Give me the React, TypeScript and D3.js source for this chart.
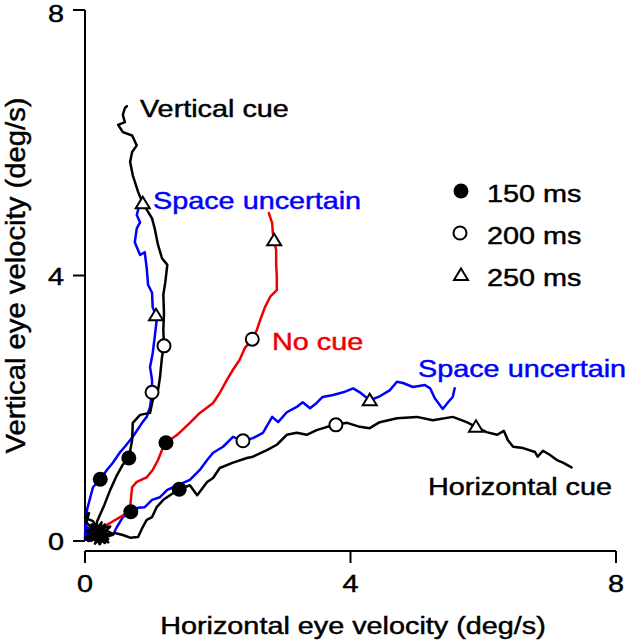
import React from "react";
import * as d3 from "d3";

type Pt = [number, number];

// ---- data (deg/s) ----
const xTicks = [0, 4, 8];
const yTicks = [0, 4, 8];

const verticalCue: Pt[] = [
  [0.02, 0.02], [0.3, 0.2], [0.05, 0.1], [0.35, 0.03], [0.1, 0.25], [0.4, 0.12], [0.05, 0.0],
  [0.25, 0.28], [0.15, -0.04], [0.38, 0.22], [0.02, 0.15], [0.3, -0.03], [0.12, 0.3], [0.0, 0.35],
  [0.06, 0.42], [0.02, 0.28], [0.12, 0.18], [0.22, -0.05], [0.28, 0.16], [0.08, 0.05],
  [0.33, 0.1], [0.14, 0.12], [0.24, 0.22], [0.18, 0.02], [0.18, 0.29],
  [0.29, 0.54], [0.38, 0.77],
  [0.48, 0.99], [0.57, 1.15], [0.66, 1.25], [0.71, 1.52], [0.72, 1.78], [0.83, 1.9], [0.98, 1.93],
  [1.02, 2.12], [1.1, 2.27], [1.13, 2.47], [1.16, 2.77], [1.19, 2.94], [1.18, 3.18], [1.19, 3.43],
  [1.18, 3.71], [1.21, 3.9], [1.24, 4.16], [1.16, 4.26], [1.1, 4.46], [1.05, 4.71], [1.01, 4.86],
  [0.87, 5.09], [0.8, 5.26], [0.72, 5.51], [0.68, 5.71], [0.71, 5.86], [0.78, 5.96], [0.71, 6.11],
  [0.57, 6.16], [0.5, 6.27], [0.6, 6.31], [0.57, 6.42], [0.6, 6.52], [0.63, 6.55],
];

const spaceVertical: Pt[] = [
  [0.0, 0.02], [0.08, 0.17], [0.0, 0.24], [0.11, 0.09], [0.03, 0.05], [0.12, 0.2], [0.0, 0.09],
  [0.02, 0.32], [0.03, 0.47], [0.12, 0.81], [0.23, 0.93], [0.33, 1.07], [0.42, 1.18], [0.53, 1.34],
  [0.6, 1.42], [0.72, 1.57], [0.86, 1.78], [0.93, 1.87], [0.98, 2.02], [1.01, 2.24], [1.01, 2.43],
  [0.98, 2.62], [1.02, 2.83], [1.05, 3.07], [1.08, 3.33], [1.07, 3.4], [1.02, 3.52], [1.01, 3.74],
  [0.95, 3.86], [0.93, 4.11], [0.9, 4.35], [0.83, 4.31], [0.75, 4.5], [0.78, 4.71], [0.83, 4.8],
  [0.78, 4.91], [0.8, 4.99],
];

const noCue: Pt[] = [
  [0.05, 0.05], [0.15, 0.15], [0.1, 0.05], [0.2, 0.1], [0.27, 0.21], [0.41, 0.29], [0.53, 0.36],
  [0.63, 0.42], [0.68, 0.51], [0.71, 0.81], [0.78, 0.89], [0.93, 0.96], [1.02, 1.07], [1.1, 1.22],
  [1.18, 1.42], [1.22, 1.48], [1.39, 1.6], [1.58, 1.78], [1.73, 1.93], [1.93, 2.08], [2.03, 2.23],
  [2.14, 2.43], [2.23, 2.58], [2.33, 2.73], [2.41, 2.91], [2.52, 3.04], [2.59, 3.18], [2.64, 3.33],
  [2.71, 3.52], [2.79, 3.68], [2.89, 3.78], [2.89, 3.98], [2.88, 4.19], [2.88, 4.38], [2.85, 4.53],
  [2.83, 4.64], [2.82, 4.79], [2.77, 4.94],
];

const spaceHorizontal: Pt[] = [
  [0.02, 0.2], [0.0, 0.05], [0.1, 0.0], [0.02, 0.08], [0.23, 0.09], [0.42, 0.09], [0.48, 0.21],
  [0.57, 0.36], [0.69, 0.44], [0.8, 0.5], [0.9, 0.51], [1.01, 0.62], [1.13, 0.66], [1.24, 0.77],
  [1.33, 0.81], [1.58, 0.92], [1.73, 1.07], [1.84, 1.22], [1.93, 1.33], [2.08, 1.42], [2.23, 1.57],
  [2.38, 1.51], [2.53, 1.55], [2.68, 1.63], [2.82, 1.87], [2.91, 1.79], [3.04, 1.94], [3.19, 2.02],
  [3.28, 2.09], [3.39, 2.0], [3.49, 2.08], [3.58, 2.17], [3.74, 2.2], [3.89, 2.24], [4.04, 2.3],
  [4.14, 2.24], [4.29, 2.12], [4.44, 2.18], [4.59, 2.27], [4.7, 2.4], [4.79, 2.38], [4.94, 2.32],
  [5.12, 2.35], [5.2, 2.3], [5.27, 2.15], [5.39, 1.99], [5.47, 2.09], [5.54, 2.17], [5.57, 2.3],
];

const horizontalCue: Pt[] = [
  [0.0, 0.05], [0.26, 0.2], [0.14, 0.02], [0.32, 0.14], [0.1, 0.2], [0.23, -0.04], [0.3, 0.25],
  [0.08, 0.06], [0.2, 0.18], [0.35, -0.02], [0.16, 0.1], [0.27, 0.06], [0.38, 0.08],
  [0.45, 0.12], [0.57, 0.09], [0.68, 0.05], [0.8, 0.06], [0.87, 0.21], [0.93, 0.32], [1.01, 0.36],
  [1.08, 0.51], [1.18, 0.62], [1.28, 0.69], [1.42, 0.78], [1.58, 0.84], [1.69, 0.69], [1.84, 0.89],
  [1.93, 0.95], [2.03, 1.1], [2.23, 1.18], [2.44, 1.25], [2.53, 1.27], [2.74, 1.37], [2.89, 1.45],
  [3.04, 1.6], [3.19, 1.63], [3.34, 1.6], [3.49, 1.67], [3.65, 1.72], [3.78, 1.75], [3.95, 1.78],
  [4.14, 1.72], [4.29, 1.7], [4.44, 1.79], [4.7, 1.85], [5.0, 1.87], [5.24, 1.82], [5.54, 1.87],
  [5.75, 1.79], [5.89, 1.72], [6.05, 1.64], [6.21, 1.6], [6.31, 1.66], [6.37, 1.52], [6.45, 1.42],
  [6.6, 1.4], [6.78, 1.34], [6.82, 1.27], [6.9, 1.36], [7.0, 1.3], [7.11, 1.22], [7.2, 1.18], [7.33, 1.11],
];

// markers: [verticalCue, spaceVertical, noCue, spaceHorizontal, horizontalCue]
const markers150: Pt[] = [[0.66, 1.25], [0.23, 0.93], [1.22, 1.48], [0.69, 0.44], [1.42, 0.78]];
const markers200: Pt[] = [[1.19, 2.94], [1.01, 2.24], [2.52, 3.04], [2.38, 1.51], [3.78, 1.75]];
const markers250: Pt[] = [[0.87, 5.09], [1.07, 3.4], [2.85, 4.53], [4.29, 2.12], [5.89, 1.72]];

const legendLabels = ["150 ms", "200 ms", "250 ms"];

const BLUE = "#0000ff";
const RED = "#ee0000";
const FONT = "'Liberation Sans', Arial, Helvetica, sans-serif";

const series = [
  { data: spaceVertical, color: BLUE },
  { data: spaceHorizontal, color: BLUE },
  { data: noCue, color: RED },
  { data: verticalCue, color: "#000" },
  { data: horizontalCue, color: "#000" },
];

const labels = [
  { text: "Vertical cue", x: 140, y: 117, color: "#000" },
  { text: "Space uncertain", x: 153, y: 209, color: BLUE },
  { text: "No cue", x: 272, y: 350, color: RED },
  { text: "Space uncertain", x: 418, y: 377, color: BLUE },
  { text: "Horizontal cue", x: 428, y: 495, color: "#000" },
];

function SText({ x, y, children, anchor = "start", fill = "#000", size = 24 }: any) {
  return (
    <text
      transform={`translate(${x},${y}) scale(1.2,1)`}
      textAnchor={anchor}
      fill={fill}
      stroke={fill}
      strokeWidth={0.45}
      fontSize={size}
      fontFamily={FONT}
    >
      {children}
    </text>
  );
}

function Triangle({ cx, cy }: { cx: number; cy: number }) {
  const p = `${cx},${cy - 6.5} ${cx + 7},${cy + 5} ${cx - 7},${cy + 5}`;
  return <polygon points={p} fill="#fff" stroke="#000" strokeWidth={2} strokeLinejoin="miter" />;
}

export default function App() {
  const x = d3.scaleLinear().domain([0, 8]).range([85, 616]);
  const y = d3.scaleLinear().domain([0, 8]).range([541, 10]);
  const line = d3
    .line<Pt>()
    .x((d) => x(d[0]))
    .y((d) => y(d[1]));
  const axisY = 551;
  const axisX = 85;

  return (
    <svg
      width={628}
      height={640}
      style={{ position: "absolute", left: 0, top: 0, background: "#fff" }}
    >
      <rect width={628} height={640} fill="#fff" />
      {/* y axis */}
      <line x1={axisX} x2={axisX} y1={y(8)} y2={y(0)} stroke="#000" strokeWidth={2} />
      {yTicks.map((t) => (
        <g key={"yt" + t}>
          <line x1={axisX - 12} x2={axisX} y1={y(t)} y2={y(t)} stroke="#000" strokeWidth={2} />
          <SText x={64} y={Math.max(y(t) + 9, 22)} anchor="end">
            {String(t)}
          </SText>
        </g>
      ))}
      {/* x axis */}
      <line x1={x(0)} x2={x(8)} y1={axisY} y2={axisY} stroke="#000" strokeWidth={2} />
      {xTicks.map((t) => (
        <g key={"xt" + t}>
          <line x1={x(t)} x2={x(t)} y1={axisY} y2={axisY + 12} stroke="#000" strokeWidth={2} />
          <SText x={x(t)} y={592} anchor="middle">
            {String(t)}
          </SText>
        </g>
      ))}
      <SText x={353} y={634} anchor="middle">
        Horizontal eye velocity (deg/s)
      </SText>
      <text
        transform={`translate(25,${y(4)}) rotate(-90)`}
        textAnchor="middle"
        fontSize={28}
        fontFamily={FONT}
        textLength={356}
        lengthAdjust="spacingAndGlyphs"
        fill="#000"
        stroke="#000"
        strokeWidth={0.45}
      >
        Vertical eye velocity (deg/s)
      </text>

      {/* traces */}
      {series.map((s, i) => (
        <path
          key={"s" + i}
          d={line(s.data) || ""}
          fill="none"
          stroke={s.color}
          strokeWidth={2.5}
          strokeLinejoin="round"
          strokeLinecap="round"
        />
      ))}

      {/* markers */}
      {markers150.map((m, i) => (
        <circle key={"m150" + i} cx={x(m[0])} cy={y(m[1])} r={7.5} fill="#000" />
      ))}
      {markers200.map((m, i) => (
        <circle key={"m200" + i} cx={x(m[0])} cy={y(m[1])} r={6.5} fill="#fff" stroke="#000" strokeWidth={2} />
      ))}
      {markers250.map((m, i) => (
        <Triangle key={"m250" + i} cx={x(m[0])} cy={y(m[1])} />
      ))}

      {/* labels */}
      {labels.map((l, i) => (
        <SText key={"l" + i} x={l.x} y={l.y} fill={l.color}>
          {l.text}
        </SText>
      ))}

      {/* legend */}
      <circle cx={461} cy={191} r={7.5} fill="#000" />
      <circle cx={460} cy={233} r={6.5} fill="#fff" stroke="#000" strokeWidth={2} />
      <Triangle cx={461} cy={275} />
      {legendLabels.map((t, i) => (
        <SText key={"lg" + i} x={487} y={202 + i * 42}>
          {t}
        </SText>
      ))}
    </svg>
  );
}
